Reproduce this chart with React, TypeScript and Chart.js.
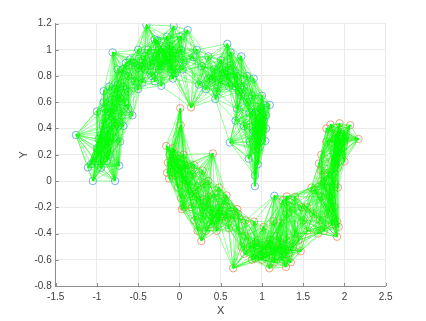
import React, { useEffect, useRef } from "react";
import { Chart, registerables } from "chart.js";

Chart.register(...registerables);

const blueX = [-1.255,-1.11,-1.05,-0.78,-0.73,-1.07,-0.57,-1.0,-0.92,-0.81,-0.69,-0.6,-0.4,-0.07,0.10,-0.27,-0.22,-0.08,0.04,0.17,0.21,-0.75,0.58,0.27,0.235,0.435,0.61,0.68,1.0,1.095,1.05,1.04,0.84,0.95,0.915,0.915,1.15,
  -0.95,-0.98,-0.9,-0.85,-0.93,-0.87,-0.8,-0.78,-0.9,-0.84,-0.76,-0.7,-0.82,-0.72,-0.66,-0.78,-0.68,-0.62,-0.62,-0.54,-0.5,-0.55,
  -0.42,-0.42,-0.34,-0.32,-0.25,-0.22,-0.15,-0.12,-0.1,-0.05,0.02,-0.3,
  0.35,0.42,0.5,0.48,0.55,0.6,0.62,0.7,0.72,0.78,0.82,0.88,0.92,0.98,0.95,1.02,0.9,0.98,0.92,
  -0.95,-0.9,-0.86,-0.82,-0.88,-0.95,-0.8,-0.74,-0.75,-0.85,
  -0.35,-0.28,-0.25,-0.18,-0.12,-0.2,-0.08,-0.38,-0.45,
  0.4,0.52,0.58,0.66,0.68,0.75,0.85,0.92,1.0,0.96,0.93,0.98,
  -1.0,-1.02,-0.72,-0.68,-0.62,-0.92,-0.75,-0.65,-0.5,-0.45,-0.5,-0.3,-0.15,0.02,0.05,-0.05,
  0.32,0.35,0.45,0.62,0.75,0.82,0.9,0.7,0.78,0.85,1.03,1.05];
const blueY = [0.351,0.104,0,0,0.117,0.13,0.50,0.53,0.685,0.98,0.85,0.926,1.19,1.18,1.15,1.07,0.725,0.78,0.85,0.944,1.0,0.735,1.045,0.875,0.735,0.625,0.293,0.46,0.65,0.58,0.4,0.305,0.17,0.127,0.043,-0.04,-0.113,
  0.2,0.32,0.28,0.2,0.42,0.38,0.33,0.45,0.55,0.52,0.56,0.5,0.62,0.63,0.6,0.7,0.72,0.68,0.8,0.76,0.86,0.9,
  0.85,0.95,0.8,0.92,1.0,0.88,0.95,1.03,0.85,0.95,1.0,0.76,
  0.78,0.85,0.92,0.75,0.82,0.72,0.88,0.8,0.68,0.72,0.6,0.65,0.52,0.55,0.42,0.46,0.38,0.3,0.24,
  0.35,0.48,0.3,0.42,0.15,0.1,0.55,0.42,0.66,0.72,
  0.88,0.95,0.85,0.92,0.9,1.0,0.98,1.0,0.9,
  0.78,0.85,0.78,0.82,0.72,0.65,0.52,0.45,0.38,0.25,0.35,0.48,
  0.25,0.15,0.3,0.42,0.55,0.6,0.85,0.9,0.7,0.75,1.0,1.08,1.1,1.1,0.92,0.82,
  0.7,0.95,0.68,0.98,0.95,0.8,0.78,0.55,0.42,0.3,0.58,0.5];
const redX = [0.01,0.14,0.016,-0.16,0.405,-0.15,-0.125,0.03,0.57,0.265,0.70,0.71,0.65,1.09,1.29,1.47,1.30,1.91,1.93,1.91,1.69,1.83,1.94,2.07,2.17,0.905,0.785,0.915,1.14,1.64,
  -0.12,-0.08,-0.1,-0.03,0.05,-0.05,0.02,0.1,-0.02,0.08,0.16,0.02,0.12,0.22,0.3,0.15,0.25,0.35,0.42,0.28,0.38,0.48,0.38,0.48,0.58,0.62,
  0.8,0.85,0.95,1.0,1.0,1.08,1.12,1.18,1.2,1.25,1.3,1.32,1.4,1.38,1.5,1.55,
  1.62,1.7,1.72,1.8,1.75,1.82,1.88,1.72,1.8,1.88,1.85,1.92,1.88,1.95,2.0,1.9,2.0,
  -0.08,-0.02,0.04,0.1,0.06,0.15,0.2,0.28,0.33,0.4,0.45,0.52,
  0.9,0.98,1.05,1.1,1.15,1.22,1.28,1.05,1.25,
  1.82,1.85,1.88,1.9,1.92,1.85,1.88,1.95,1.92,
  -0.14,0.18,0.28,0.35,0.48,0.55,0.66,0.05,0.18,0.22,0.32,0.45,0.6,0.72,0.8,0.75,
  1.02,1.22,1.3,1.35,1.25,1.48,1.4,1.6,1.55,1.68,1.75,1.85,1.72,1.72,1.78,1.78,2.05,2.0,1.92,1.45,1.35,1.15,0.88];
const redY = [0.555,0.56,0.425,0.267,0.21,0.063,0.018,-0.215,-0.11,-0.457,-0.215,-0.25,-0.665,-0.665,-0.655,-0.535,-0.117,-0.425,-0.35,-0.307,0.133,0.43,0.44,0.425,0.32,-0.31,-0.555,-0.59,-0.305,-0.07,
  0.2,0.25,0.12,0.17,0.2,0.05,0.08,0.12,-0.05,0,0.05,-0.13,-0.1,-0.05,-0.02,-0.2,-0.15,-0.12,-0.1,-0.27,-0.22,-0.2,-0.33,-0.3,-0.28,-0.2,
  -0.42,-0.5,-0.45,-0.52,-0.6,-0.48,-0.56,-0.42,-0.52,-0.6,-0.45,-0.55,-0.4,-0.5,-0.3,-0.38,
  -0.25,-0.3,-0.12,-0.25,-0.02,-0.12,-0.2,0.08,0.05,-0.02,0.15,0.1,0.25,0.22,0.3,0.35,0.38,
  0.18,0.1,0.02,-0.03,0.12,-0.08,-0.12,-0.2,-0.17,-0.28,-0.25,-0.25,
  -0.48,-0.56,-0.5,-0.45,-0.52,-0.48,-0.52,-0.58,-0.56,
  -0.05,0.05,0.1,0.18,0.28,-0.15,0.32,0.32,0.38,
  0.14,0.12,0.08,0,-0.05,-0.15,-0.28,-0.2,-0.3,-0.38,-0.38,-0.38,-0.36,-0.38,-0.3,-0.5,
  -0.35,-0.32,-0.25,-0.2,-0.15,-0.2,-0.12,-0.05,-0.2,-0.4,-0.38,-0.33,0,0.2,0.3,0.4,0.33,0.15,-0.05,-0.45,-0.62,-0.62,-0.6];
const blueInLowerMoon = [36];
const redInUpperMoon = [1];
const xTicks = ["-1.5","-1","-0.5","0","0.5","1","1.5","2","2.5"];
const yTicks = ["1.2","1","0.8","0.6","0.4","0.2","0","-0.2","-0.4","-0.6","-0.8"];
const NEIGHBOURS = 20;
const MAX_EDGE = 0.45;

type P = { x: number; y: number };

function buildEdges(pts: P[], out: [P, P][]) {
  const seen = new Set<string>();
  pts.forEach((p, i) => {
    const order = pts
      .map((q, j) => ({ j, d: Math.hypot(p.x - q.x, p.y - q.y) }))
      .filter((o) => o.j !== i)
      .sort((a, b) => a.d - b.d)
      .slice(0, NEIGHBOURS)
      .filter((o) => o.d <= MAX_EDGE);
    order.forEach(({ j }) => {
      const key = i < j ? `${i}-${j}` : `${j}-${i}`;
      if (!seen.has(key)) {
        seen.add(key);
        out.push([p, pts[j]]);
      }
    });
  });
}

export default function App() {
  const ref = useRef<HTMLCanvasElement>(null);
  useEffect(() => {
    document.body.style.margin = "0";
    const blue = blueX.map((x, i) => ({ x, y: blueY[i] }));
    const red = redX.map((x, i) => ({ x, y: redY[i] }));
    const upper = [
      ...blue.filter((_, i) => !blueInLowerMoon.includes(i)),
      ...red.filter((_, i) => redInUpperMoon.includes(i)),
    ];
    const lower = [
      ...red.filter((_, i) => !redInUpperMoon.includes(i)),
      ...blue.filter((_, i) => blueInLowerMoon.includes(i)),
    ];
    const edges: [P, P][] = [];
    buildEdges(upper, edges);
    buildEdges(lower, edges);
    const edgeSets = edges.map((e) => ({
      data: e,
      showLine: true,
      borderColor: "rgba(0,255,0,0.65)",
      borderWidth: 0.65,
      pointRadius: 0,
    }));
    const marker = (data: P[], color: string) => ({
      data,
      showLine: false,
      pointStyle: "circle",
      pointRadius: 3.7,
      pointBorderWidth: 0.75,
      pointBorderColor: color,
      pointBackgroundColor: "rgba(0,0,0,0)",
    });
    const innerTicks = {
      id: "innerTicks",
      afterDatasetsDraw(c: any) {
        const { ctx, chartArea: a, scales } = c;
        ctx.save();
        ctx.strokeStyle = "#8c8c8c";
        ctx.lineWidth = 1;
        ctx.beginPath();
        scales.x.ticks.forEach((_: any, i: number) => {
          const px = Math.round(scales.x.getPixelForTick(i)) + 0.5;
          ctx.moveTo(px, a.bottom);
          ctx.lineTo(px, a.bottom - 3);
        });
        scales.y.ticks.forEach((_: any, i: number) => {
          const py = Math.round(scales.y.getPixelForTick(i)) + 0.5;
          ctx.moveTo(a.left, py);
          ctx.lineTo(a.left + 3, py);
        });
        ctx.stroke();
        ctx.restore();
      },
    };
    const font = { family: "'Liberation Sans', Arial, sans-serif", size: 10 };
    const chart = new Chart(ref.current!, {
      type: "scatter",
      data: {
        datasets: [
          ...edgeSets,
          marker(blue, "rgba(0,114,189,0.7)"),
          marker(red, "rgba(217,83,25,0.7)"),
        ] as any,
      },
      plugins: [innerTicks],
      options: {
        animation: false,
        responsive: false,
        events: [],
        layout: { padding: { top: 23.5, right: 40.3, left: 0, bottom: 0 } },
        plugins: { legend: { display: false }, tooltip: { enabled: false } },
        scales: {
          x: {
            type: "linear",
            min: -1.5,
            max: 2.5,
            afterFit: (s: any) => { s.height = 35; },
            afterBuildTicks: (s: any) => { s.ticks = xTicks.map((t) => ({ value: Number(t) })); },
            ticks: { font, color: "#404040", padding: 5, maxRotation: 0, autoSkip: false,
              callback: (v: any) => String(v) },
            grid: { color: "#ebebeb", lineWidth: 1, drawTicks: false },
            border: { color: "#8c8c8c", width: 1 },
            title: { display: true, text: "X", color: "#404040", padding: { top: 0, bottom: 3 },
              font: { family: font.family, size: 11 } },
          },
          y: {
            type: "linear",
            min: -0.8,
            max: 1.2,
            afterFit: (s: any) => { s.width = 55.7; },
            afterBuildTicks: (s: any) => { s.ticks = yTicks.map((t) => ({ value: Number(t) })); },
            ticks: { font, color: "#404040", padding: 4, autoSkip: false,
              callback: (v: any) => String(v) },
            grid: { color: "#ebebeb", lineWidth: 1, drawTicks: false },
            border: { color: "#8c8c8c", width: 1 },
            title: { display: true, text: "Y", color: "#404040", padding: { top: 17, bottom: 0 },
              font: { family: font.family, size: 11 } },
          },
        },
      },
    } as any);
    return () => chart.destroy();
  }, []);
  return (
    <div style={{ position: "absolute", left: 0, top: 0, width: 426, height: 321 }}>
      <canvas ref={ref} width={426} height={321} style={{ display: "block" }} />
    </div>
  );
}
